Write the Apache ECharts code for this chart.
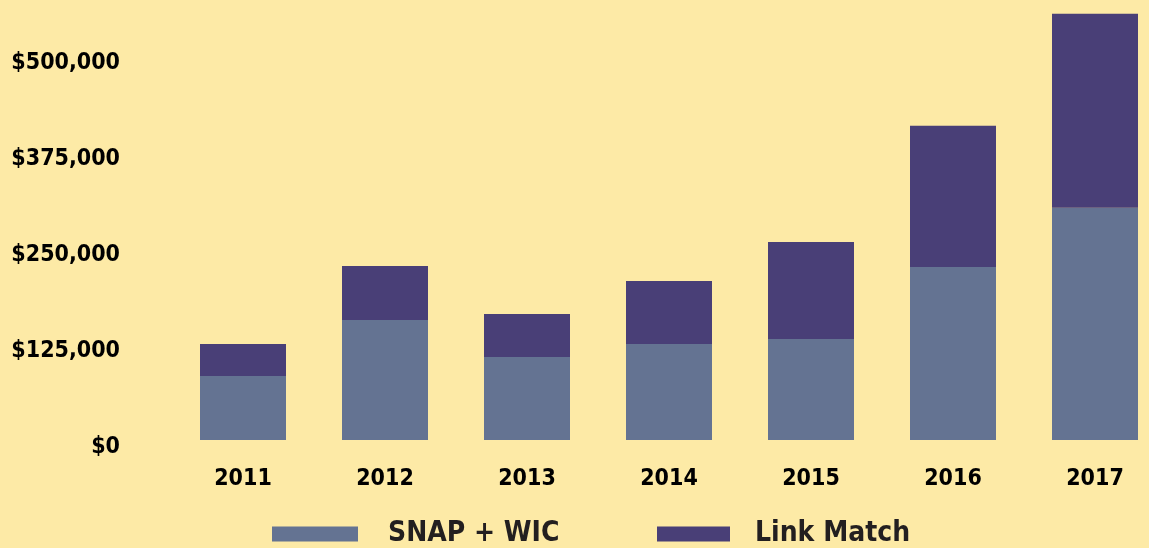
<!DOCTYPE html>
<html>
<head>
<meta charset="utf-8">
<script src="https://cdn.jsdelivr.net/npm/echarts@6/dist/echarts.min.js"></script>
<style>
  html, body { margin: 0; padding: 0; background: #FDEAA6; }
  #chart { width: 1149px; height: 548px; }
</style>
</head>
<body>
<div id="chart"></div>
<script>
const years = ['2011', '2012', '2013', '2014', '2015', '2016', '2017']
const snapWic = [83300, 156200, 108100, 125000, 131500, 225200, 302100]
const linkMatch = [41700, 70300, 55900, 82000, 126300, 183600, 252600]

const FONT = 'DejaVu Sans Condensed'

let chart = echarts.init(document.getElementById('chart'))

let legendText = {
  fontFamily: FONT,
  fontWeight: 'bold',
  fontSize: 28,
  color: '#231F20'
}

chart.setOption({
  backgroundColor: '#FDEAA6',
  animation: false,
  color: ['#647392', '#493F77'],
  legend: [
    {
      data: ['SNAP + WIC'],
      left: 267,
      top: 515,
      itemWidth: 86,
      itemHeight: 15,
      icon: 'rect',
      textStyle: Object.assign({ padding: [0, 0, 0, 25] }, legendText)
    },
    {
      data: ['Link Match'],
      left: 652,
      top: 515,
      itemWidth: 73,
      itemHeight: 15,
      icon: 'rect',
      textStyle: Object.assign({ padding: [0, 0, 0, 20] }, legendText)
    }
  ],
  grid: {
    left: 172,
    width: 994,
    top: 2,
    bottom: 108,
    outerBoundsMode: 'none'
  },
  xAxis: {
    type: 'category',
    data: years,
    axisLine: { show: false },
    axisTick: { show: false },
    axisLabel: {
      margin: 28,
      fontFamily: FONT,
      fontWeight: 'bold',
      fontSize: 23,
      color: '#000'
    }
  },
  yAxis: {
    type: 'value',
    min: 0,
    max: 570000,
    interval: 125000,
    splitLine: { show: false },
    axisLine: { show: false },
    axisTick: { show: false },
    axisLabel: {
      showMaxLabel: false,
      margin: 52,
      verticalAlign: 'top',
      lineHeight: 14,
      fontFamily: FONT,
      fontWeight: 'bold',
      fontSize: 23,
      color: '#000',
      formatter: v => '$' + v.toLocaleString('en-US')
    }
  },
  series: [
    {
      name: 'SNAP + WIC',
      type: 'bar',
      stack: 'total',
      barWidth: 86,
      data: snapWic
    },
    {
      name: 'Link Match',
      type: 'bar',
      stack: 'total',
      barWidth: 86,
      data: linkMatch
    }
  ]
})
</script>
</body>
</html>
